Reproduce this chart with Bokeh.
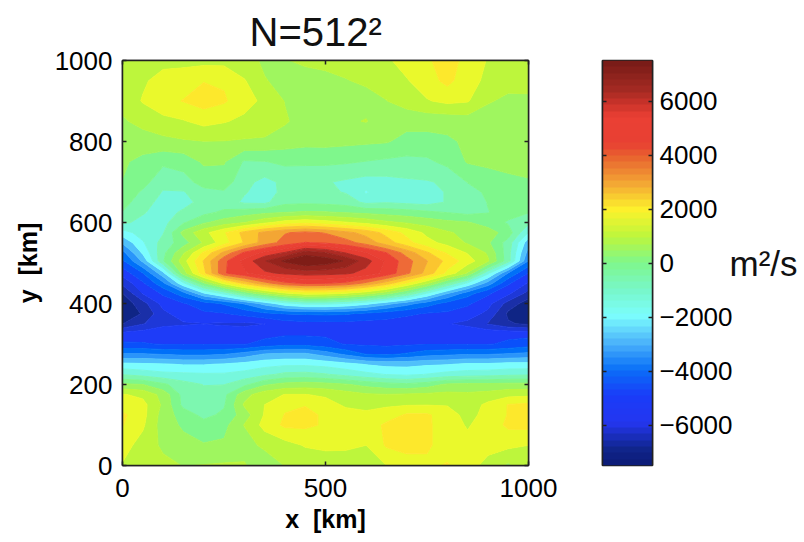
import numpy as np
from bokeh.embed import file_html
from bokeh.layouts import row
from bokeh.models import FixedTicker, LinearAxis, Range1d, Title
from bokeh.plotting import figure
from bokeh.resources import INLINE

x_km = list(range(0, 1001, 50))
y_km = [0, 50, 100, 125, 150, 175, 200, 225, 250, 275, 300, 325, 350, 375, 400, 425, 450,
        475, 505, 525, 550, 575, 600, 625, 650, 675, 700, 750, 800, 850, 900, 950, 1000]

# Field values (m^2/s); one list per y row
y0000 = [1200, 950, 800, 600, 650, 700, 700, 100, 650, 800, 850, 950, 1050, 1250, 1500, 1700, 1950, 1500, 1050, 500, 1100]
y0050 = [1500, 1000, 500, 200, 50, 100, 300, 800, 1000, 1300, 1400, 1350, 1250, 1950, 2150, 2000, 1500, 1400, 1450, 1400, 1250]
y0100 = [1900, 1350, 300, -100, -400, -200, 650, 1450, 2000, 2000, 1800, 1500, 1500, 2000, 2200, 2000, 1500, 1200, 1500, 2000, 2050]
y0125 = [2000, 1450, 350, -300, -800, -500, 300, 1300, 1900, 2000, 1800, 1500, 1500, 1550, 1950, 1950, 1600, 1000, 1500, 1900, 2050]
y0150 = [1500, 1450, 500, -800, -1000, -700, 700, 1250, 1750, 1850, 1500, 1150, 900, 1150, 1200, 1220, 1200, 900, 1400, 1900, 2000]
y0175 = [1300, 1100, 400, -850, -1100, -800, 400, 1000, 1270, 1270, 1150, 900, 700, 650, 700, 750, 800, 750, 850, 1050, 1100]
y0200 = [100, 0, -500, -1000, -1270, -1270, -800, -100, 200, 300, 200, 50, -200, -400, -500, -300, 100, 150, 150, 200, 200]
y0225 = [-1300, -1500, -1700, -1750, -1800, -1800, -1650, -1400, -1100, -1050, -1200, -1450, -1700, -1900, -2000, -1850, -1650, -1550, -1500, -1400, -1350]
y0250 = [-2350, -2400, -2450, -2550, -2550, -2450, -2300, -2100, -2000, -2000, -2100, -2300, -2550, -2700, -2700, -2600, -2550, -2400, -2400, -2300, -2300]
y0275 = [-3700, -3700, -3800, -3900, -3900, -3800, -3500, -3100, -3000, -3000, -3400, -3900, -4400, -4500, -4300, -4000, -3900, -3800, -3800, -3700, -3600]
y0300 = [-4900, -4950, -5050, -5050, -5050, -5050, -5050, -4800, -4600, -4600, -4800, -5050, -5100, -5150, -5100, -5050, -5050, -5050, -5050, -4900, -4700]
y0325 = [-5400, -5300, -5200, -5200, -5200, -5300, -5300, -5200, -5100, -5100, -5100, -5100, -5100, -5100, -5100, -5100, -5150, -5150, -5150, -5150, -5200]
y0350 = [-6900, -6300, -5800, -5700, -5650, -5700, -5750, -5650, -5300, -5200, -5200, -5200, -5250, -5250, -5300, -5400, -5600, -5800, -6300, -6800, -7000]
y0375 = [-7490, -6800, -5800, -5300, -5100, -5050, -4800, -4500, -4350, -4300, -4250, -4300, -4500, -4700, -4900, -5050, -5100, -5300, -5800, -7000, -7490]
y0400 = [-7300, -6500, -5400, -5050, -4700, -4300, -3700, -2900, -2100, -1700, -1700, -1900, -2300, -2900, -3500, -4100, -4600, -4900, -5400, -6500, -7200]
y0425 = [-6900, -5600, -4900, -4000, -2600, -1700, -500, 400, 1100, 1500, 1450, 1200, 800, 200, -700, -1900, -3100, -4100, -4900, -5500, -6500]
y0450 = [-6100, -5100, -3900, -2000, -100, 1400, 2600, 3500, 4200, 4450, 4400, 4200, 3600, 2800, 1800, 700, -700, -2000, -3400, -4900, -5700]
y0475 = [-5400, -4400, -2700, 300, 2300, 4300, 4900, 5500, 5750, 5900, 5850, 5750, 5400, 4800, 3900, 2900, 1700, 550, -1700, -3800, -5050]
y0505 = [-4500, -3000, -700, 1000, 2550, 4200, 5200, 6200, 7000, 7490, 7300, 6800, 5900, 4900, 4000, 3150, 2300, 1550, 700, -1000, -3800]
y0525 = [-4000, -2400, -800, 550, 2000, 3300, 4500, 5200, 5700, 6600, 6300, 5600, 5050, 4400, 3500, 2600, 1800, 1200, 550, -1000, -3400]
y0550 = [-3050, -1950, -1000, -300, 700, 1600, 2550, 3400, 4000, 4400, 4300, 4000, 3500, 2800, 2100, 1450, 1050, 550, 100, -900, -2900]
y0575 = [-2150, -1600, -1300, 200, 1050, 1800, 2700, 3300, 3700, 3900, 3700, 3300, 2900, 2300, 1700, 1100, 700, 450, 300, -300, -1900]
y0600 = [-1150, -1400, -1450, -700, -100, 300, 600, 1100, 1500, 1700, 1500, 1300, 1050, 750, 550, 350, 150, 50, -300, -700, -1100]
y0625 = [-650, -1200, -1500, -1150, -800, -500, -300, -150, -10, 80, 50, -50, -150, -250, -350, -500, -650, -800, -650, -400, -600]
y0650 = [-400, -950, -1500, -1450, -1050, -950, -1350, -1400, -800, -750, -800, -900, -1400, -1300, -1400, -1500, -1200, -1050, -600, -350, -150]
y0675 = [-200, -720, -1300, -1300, -800, -700, -1200, -1500, -1100, -900, -1100, -1300, -1950, -1400, -1400, -1500, -1200, -900, -500, -200, -100]
y0700 = [-20, -400, -1050, -850, -400, -300, -1050, -1450, -1100, -950, -1200, -1350, -1500, -1450, -1350, -1300, -1150, -600, -350, -150, -50]
y0750 = [100, -200, -500, -400, 100, 50, -700, -650, -500, -550, -500, -550, -650, -750, -800, -750, -450, 50, 150, 200, 200]
y0800 = [300, 350, 450, 550, 610, 600, 550, 500, 300, 200, 200, 150, 100, 50, -200, -200, -100, 100, 150, 200, 200]
y0850 = [550, 800, 1050, 1200, 1450, 1300, 1100, 1050, 700, 350, 300, 550, 650, 300, 200, 200, 200, 300, 200, 150, 200]
y0900 = [800, 1300, 1700, 1900, 2150, 1950, 1500, 1100, 600, 400, 350, 400, 450, 610, 900, 1200, 1400, 1300, 700, 450, 500]
y0950 = [950, 1150, 1500, 1600, 1850, 1800, 1300, 650, 500, 450, 500, 600, 700, 850, 1200, 1600, 2050, 1500, 1100, 900, 850]
y1000 = [900, 950, 1050, 1050, 1050, 1050, 800, 550, 600, 700, 750, 800, 900, 1150, 1500, 1800, 2100, 1700, 1200, 1050, 900]

field_rows = [y0000, y0050, y0100, y0125, y0150, y0175, y0200, y0225, y0250, y0275, y0300,
              y0325, y0350, y0375, y0400, y0425, y0450, y0475, y0505, y0525, y0550, y0575,
              y0600, y0625, y0650, y0675, y0700, y0750, y0800, y0850, y0900, y0950, y1000]

levels = list(range(-7500, 7501, 625))
band_colors = ["#0f2585", "#1a2fa8", "#1e38d8", "#1e3cf8", "#0a50fa", "#0070f8", "#2a95fa",
               "#50c0fa", "#7bfdfd", "#76f7dd", "#7df7b0", "#7ff78c", "#9ff65f", "#bdf63c",
               "#eaf92c", "#fde82c", "#fbc52f", "#f3a634", "#ee6a37", "#ea4034", "#e63d32",
               "#ad2b24", "#96241d", "#7f1d17"]

cbar_values = [-7500, -7000, -6000, -5000, -4000, -3000, -2000, -1000, 0, 1000, 2000, 3000, 4000, 4500, 5500, 6000, 6500, 7500]
cbar_colors = ["#0c1c78", "#10258c", "#2436f0", "#1a3cf8", "#0a70f8", "#4cb4fa", "#7bfdfd", "#78f7c8",
               "#7ff78c", "#bdf63c", "#fdf22c", "#f3a634", "#e8622f", "#e84033", "#ea4034", "#c9322a",
               "#a42a22", "#7a1c18"]
cbar_ticks = [-6000, -4000, -2000, 0, 2000, 4000, 6000]
x_ticks = [0, 500, 1000]
y_ticks = [0, 200, 400, 600, 800, 1000]

FONT = "Liberation Sans"
DARK = "#222222"


def style_axis(ax, labels=True, size="26px", standoff=5):
    ax.axis_line_color = DARK
    ax.axis_line_width = 1.5
    ax.major_tick_line_color = DARK
    ax.major_tick_line_width = 1.5
    ax.major_tick_in = 4
    ax.major_tick_out = 0
    ax.minor_tick_line_color = None
    ax.major_label_text_font = FONT
    ax.major_label_text_font_size = size if labels else "0px"
    ax.major_label_text_color = "#000000" if labels else None
    ax.major_label_standoff = standoff


p = figure(width=578, height=540, output_backend="svg", toolbar_location=None,
           x_range=Range1d(0, 1000), y_range=Range1d(0, 1000),
           min_border_left=122, min_border_right=50, min_border_top=58, min_border_bottom=75)
p.grid.visible = False
p.outline_line_color = DARK
p.outline_line_width = 1.5
p.contour(np.array(x_km, dtype=float), np.array(y_km, dtype=float),
          np.array(field_rows, dtype=float), levels, fill_color=band_colors,
          line_color=band_colors + band_colors[-1:], line_width=1)

p.xaxis.ticker = FixedTicker(ticks=x_ticks)
p.yaxis.ticker = FixedTicker(ticks=y_ticks)
style_axis(p.xaxis[0], standoff=13)
style_axis(p.yaxis[0], standoff=10)
p.xaxis.axis_label = "x\u00a0\u00a0[km]"
p.yaxis.axis_label = "y\u00a0\u00a0[km]"
for ax, so in ((p.xaxis[0], 5), (p.yaxis[0], 10)):
    ax.axis_label_text_font = FONT
    ax.axis_label_text_font_size = "25px"
    ax.axis_label_text_font_style = "bold"
    ax.axis_label_text_color = "#000000"
    ax.axis_label_standoff = so
top_ax = LinearAxis(ticker=FixedTicker(ticks=x_ticks))
right_ax = LinearAxis(ticker=FixedTicker(ticks=y_ticks))
style_axis(top_ax, labels=False)
style_axis(right_ax, labels=False)
p.add_layout(top_ax, "above")
p.add_layout(right_ax, "right")
p.title = Title(text="N=512\u00b2", align="left", offset=127, text_font=FONT, text_font_size="40px",
                text_font_style="normal", text_color="#111111", standoff=14)

grad = np.linspace(-7500, 7500, 64)
rgb = [tuple(int(c[i:i + 2], 16) for i in (1, 3, 5)) for c in cbar_colors]
palette = ["#%02x%02x%02x" % tuple(int(round(np.interp(v, cbar_values, [r[k] for r in rgb]))) for k in range(3)) for v in grad]

q = figure(width=224, height=540, output_backend="svg", toolbar_location=None,
           x_range=Range1d(0, 1), y_range=Range1d(-7500, 7500),
           min_border_left=24, min_border_right=150, min_border_top=60, min_border_bottom=73)
q.grid.visible = False
q.outline_line_color = DARK
q.outline_line_width = 1.5
q.image(image=[grad.reshape(64, 1)], x=0, y=-7500, dw=1, dh=15000, palette=palette)
q.xaxis.visible = False
style_axis(q.yaxis[0], labels=False)
q.yaxis.ticker = FixedTicker(ticks=cbar_ticks)
r_ax = LinearAxis(ticker=FixedTicker(ticks=cbar_ticks))
style_axis(r_ax, standoff=7)
r_ax.major_label_overrides = {t: str(t).replace("-", "\u2212") for t in cbar_ticks}
r_ax.axis_label = "m\u00b2/s"
r_ax.axis_label_orientation = "horizontal"
r_ax.axis_label_text_font = FONT
r_ax.axis_label_text_font_size = "35px"
r_ax.axis_label_text_font_style = "normal"
r_ax.axis_label_text_color = "#111111"
r_ax.axis_label_standoff = -6
q.add_layout(r_ax, "right")

open("out.html", "w").write(file_html(row(p, q), INLINE))
